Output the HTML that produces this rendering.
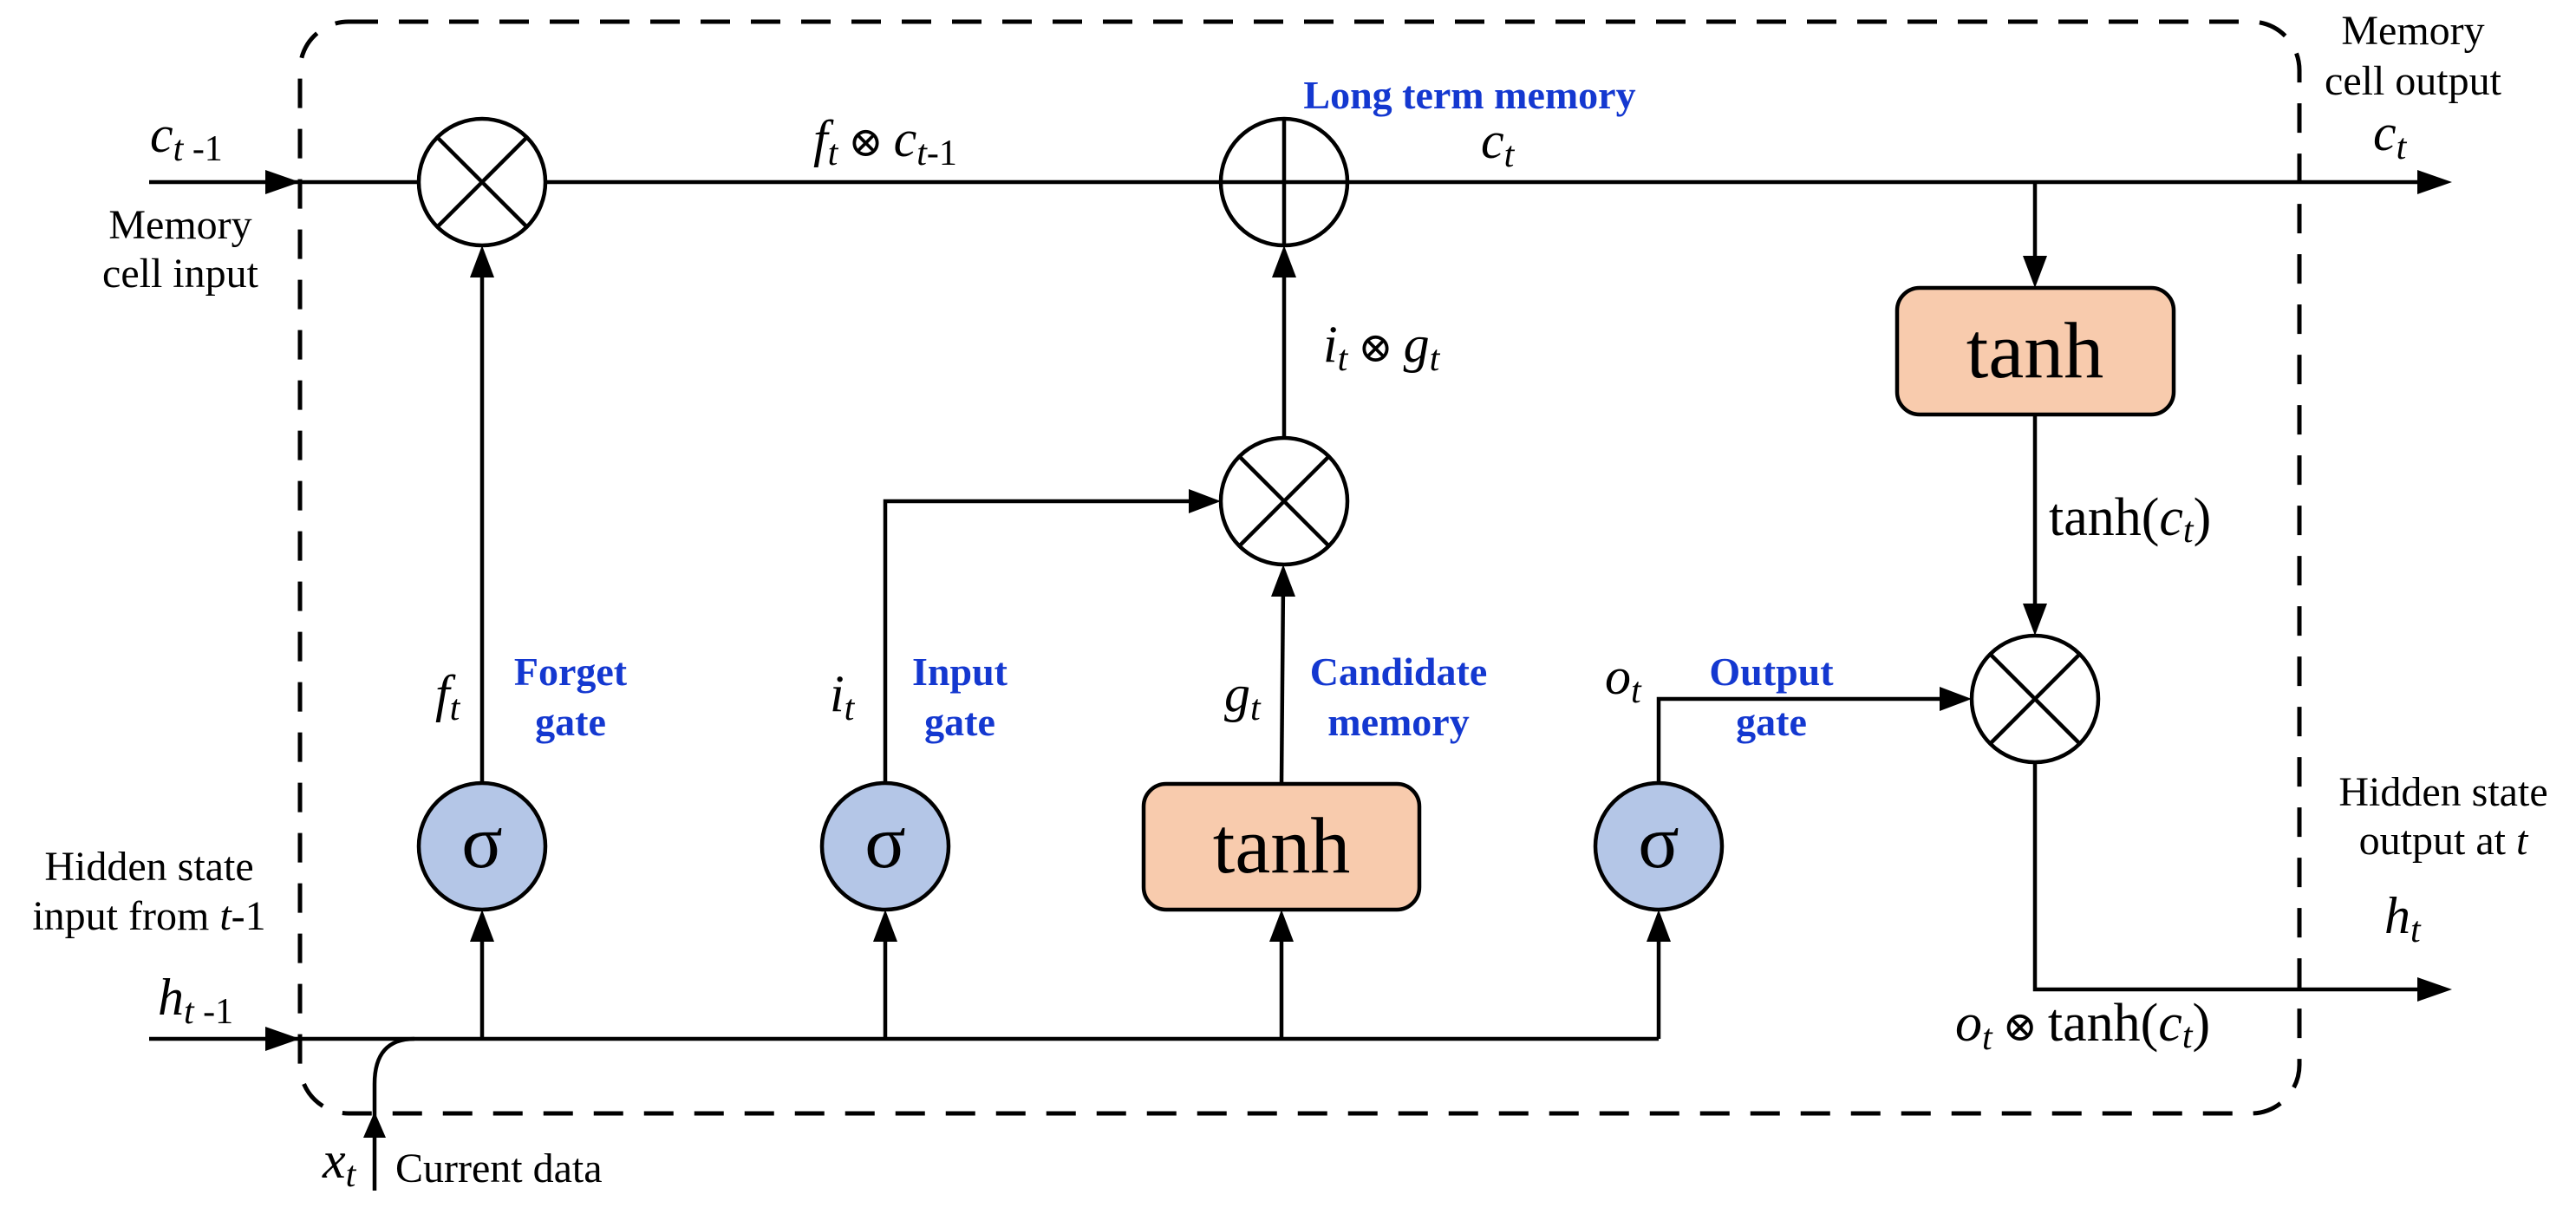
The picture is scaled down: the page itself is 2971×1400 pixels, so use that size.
<!DOCTYPE html>
<html><head><meta charset="utf-8"><style>
html,body{margin:0;padding:0;background:#fff;}
svg{display:block;}
</style></head><body>
<svg width="2971" height="1400" viewBox="0 0 2971 1400" xmlns="http://www.w3.org/2000/svg" font-family="Liberation Serif, DejaVu Serif, serif">
<rect x="346" y="25" width="2306" height="1259" rx="56" ry="56" fill="none" stroke="#000" stroke-width="5" stroke-dasharray="34,24"/>
<g stroke="#000" stroke-width="4.5" fill="none">
<line x1="172" y1="210" x2="2800" y2="210"/>
<line x1="172" y1="1198" x2="1913" y2="1198"/>
<path d="M432,1373 L432,1250 Q432,1198 478,1198"/>
<line x1="556" y1="903" x2="556" y2="300"/>
<polyline points="1021,903 1021,578 1385,578"/>
<line x1="1478" y1="904" x2="1480" y2="670"/>
<line x1="1481" y1="505" x2="1481" y2="300"/>
<line x1="2347" y1="210" x2="2347" y2="310"/>
<line x1="2347" y1="478" x2="2347" y2="712"/>
<polyline points="1913,903 1913,806 2250,806"/>
<polyline points="2347,879 2347,1141 2800,1141"/>
<line x1="556" y1="1198" x2="556" y2="1070"/>
<line x1="1021" y1="1198" x2="1021" y2="1070"/>
<line x1="1478" y1="1198" x2="1478" y2="1070"/>
<line x1="1913" y1="1198" x2="1913" y2="1070"/>
</g>
<g fill="#000">
<polygon points="346,210 306,196 306,224"/>
<polygon points="346,1198 306,1184 306,1212"/>
<polygon points="2828,210 2788,196 2788,224"/>
<polygon points="2828,1141 2788,1127 2788,1155"/>
<polygon points="432,1282 419,1312 445,1312"/>
<polygon points="556,283 542,320 570,320"/>
<polygon points="1481,283 1467,320 1495,320"/>
<polygon points="1480,651 1466,688 1494,688"/>
<polygon points="1408,578 1371,564 1371,592"/>
<polygon points="2347,332 2333,295 2361,295"/>
<polygon points="2347,733 2333,696 2361,696"/>
<polygon points="2274,806 2237,792 2237,820"/>
<polygon points="556,1049 542,1086 570,1086"/>
<polygon points="1021,1049 1007,1086 1035,1086"/>
<polygon points="1478,1049 1464,1086 1492,1086"/>
<polygon points="1913,1049 1899,1086 1927,1086"/>
</g>
<g stroke="#000" stroke-width="4.5">
<circle cx="556" cy="210" r="73" fill="#fff"/>
<line x1="504" y1="158" x2="608" y2="262"/><line x1="608" y1="158" x2="504" y2="262"/>
<circle cx="1481" cy="210" r="73" fill="#fff"/>
<line x1="1408" y1="210" x2="1554" y2="210"/><line x1="1481" y1="137" x2="1481" y2="283"/>
<circle cx="1481" cy="578" r="73" fill="#fff"/>
<line x1="1429" y1="526" x2="1533" y2="630"/><line x1="1533" y1="526" x2="1429" y2="630"/>
<circle cx="2347" cy="806" r="73" fill="#fff"/>
<line x1="2295" y1="754" x2="2399" y2="858"/><line x1="2399" y1="754" x2="2295" y2="858"/>
<circle cx="556" cy="976" r="73" fill="#b4c6e7"/>
<circle cx="1021" cy="976" r="73" fill="#b4c6e7"/>
<circle cx="1913" cy="976" r="73" fill="#b4c6e7"/>
<rect x="1319" y="904" width="318" height="145" rx="26" fill="#f8cbad"/>
<rect x="2188" y="332" width="319" height="146" rx="26" fill="#f8cbad"/>
</g>
<g font-size="88" text-anchor="middle" fill="#000">
<text x="556" y="1000">σ</text><text x="1021" y="1000">σ</text><text x="1913" y="1000">σ</text>
</g>
<g font-size="92" text-anchor="middle" fill="#000">
<text x="1478" y="1006">tanh</text><text x="2347" y="435">tanh</text>
</g>
<g fill="#000">
<text x="173" y="175" font-size="60"><tspan font-style="italic">c</tspan><tspan font-style="italic" font-size="42" dy="10">t</tspan><tspan font-size="42"> -1</tspan></text>
<g font-size="48" text-anchor="middle">
<text x="208" y="275">Memory</text><text x="208" y="331">cell input</text>
<text x="172" y="1015">Hidden state</text><text x="172" y="1072">input from <tspan font-style="italic">t</tspan>-1</text>
<text x="2783" y="51">Memory</text><text x="2783" y="109">cell output</text>
<text x="2818" y="929">Hidden state</text><text x="2818" y="985">output at <tspan font-style="italic">t</tspan></text>
</g>
<text x="182" y="1170" font-size="60"><tspan font-style="italic">h</tspan><tspan font-style="italic" font-size="42" dy="10">t</tspan><tspan font-size="42"> -1</tspan></text>
<text x="938" y="180" font-size="60"><tspan font-style="italic">f</tspan><tspan font-style="italic" font-size="42" dy="10">t</tspan><tspan font-size="48" dy="-10"> ⊗ </tspan><tspan font-style="italic">c</tspan><tspan font-style="italic" font-size="42" dy="10">t</tspan><tspan font-size="42">-1</tspan></text>
<text x="1708" y="182" font-size="60"><tspan font-style="italic">c</tspan><tspan font-style="italic" font-size="42" dy="10">t</tspan></text>
<text x="2737" y="173" font-size="60"><tspan font-style="italic">c</tspan><tspan font-style="italic" font-size="42" dy="10">t</tspan></text>
<text x="1526" y="417" font-size="60"><tspan font-style="italic">i</tspan><tspan font-style="italic" font-size="42" dy="10">t</tspan><tspan font-size="48" dy="-10"> ⊗ </tspan><tspan font-style="italic">g</tspan><tspan font-style="italic" font-size="42" dy="10">t</tspan></text>
<text x="2363" y="617" font-size="62">tanh(<tspan font-style="italic">c</tspan><tspan font-style="italic" font-size="42" dy="8">t</tspan><tspan dy="-8">)</tspan></text>
<text x="502" y="820" font-size="60"><tspan font-style="italic">f</tspan><tspan font-style="italic" font-size="42" dy="10">t</tspan></text>
<text x="957" y="820" font-size="60"><tspan font-style="italic">i</tspan><tspan font-style="italic" font-size="42" dy="10">t</tspan></text>
<text x="1412" y="820" font-size="60"><tspan font-style="italic">g</tspan><tspan font-style="italic" font-size="42" dy="10">t</tspan></text>
<text x="1851" y="800" font-size="60"><tspan font-style="italic">o</tspan><tspan font-style="italic" font-size="42" dy="10">t</tspan></text>
<text x="2750" y="1076" font-size="60"><tspan font-style="italic">h</tspan><tspan font-style="italic" font-size="42" dy="10">t</tspan></text>
<text x="2255" y="1200" font-size="62"><tspan font-style="italic">o</tspan><tspan font-style="italic" font-size="42" dy="10">t</tspan><tspan font-size="48" dy="-10"> ⊗ </tspan>tanh(<tspan font-style="italic">c</tspan><tspan font-style="italic" font-size="42" dy="8">t</tspan><tspan dy="-8">)</tspan></text>
<text x="372" y="1358" font-size="60"><tspan font-style="italic">x</tspan><tspan font-style="italic" font-size="42" dy="10">t</tspan></text>
<text x="456" y="1363" font-size="48">Current data</text>
</g>
<g font-weight="bold" fill="#1438d0" font-size="46" text-anchor="middle">
<text x="1695" y="125">Long term memory</text>
<text x="658" y="790">Forget</text><text x="658" y="848">gate</text>
<text x="1107" y="790">Input</text><text x="1107" y="848">gate</text>
<text x="1613" y="790">Candidate</text><text x="1613" y="848">memory</text>
<text x="2043" y="790">Output</text><text x="2043" y="848">gate</text>
</g>
</svg>
</body></html>
